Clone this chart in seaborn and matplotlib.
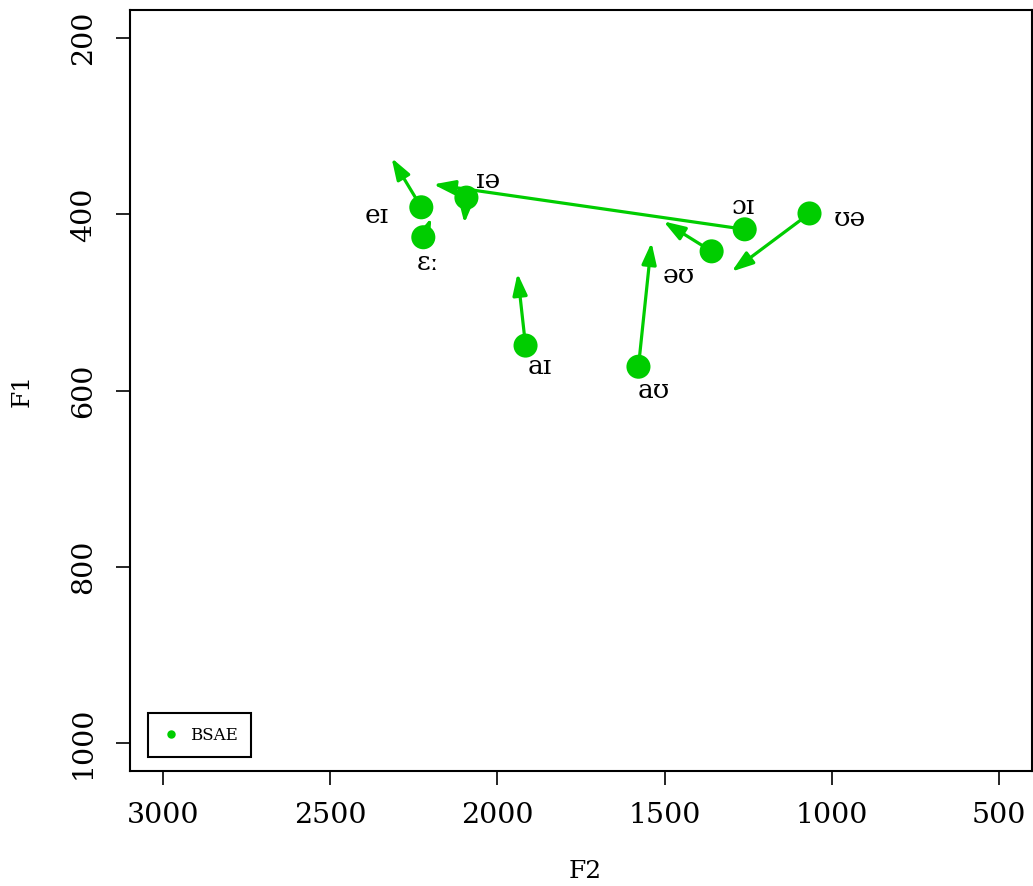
import matplotlib
matplotlib.use("Agg")
import matplotlib.pyplot as plt
import seaborn as sns
import pandas as pd

# ---- data ----
vowels = ["eɪ", "ɪə", "ɛː", "aɪ", "aʊ", "əʊ", "ɔɪ", "ʊə"]
f2_start = [2228, 2093, 2222, 1916, 1578, 1359, 1260, 1066]
f1_start = [392, 381, 426, 549, 573, 442, 417, 399]
f2_end = [2317, 2099, 2198, 1940, 1539, 1503, 2192, 1299]
f1_end = [336, 410, 404, 467, 432, 408, 366, 465]
group = "BSAE"
x_ticks = [3000, 2500, 2000, 1500, 1000, 500]
y_ticks = [200, 400, 600, 800, 1000]

# label offsets in pixels (layout only)
label_offsets = [(-45, -8), (22, 17), (5, -25), (14, -21), (15, -24), (-33, -24), (-1, 23), (40, -5)]

df = pd.DataFrame({"F2": f2_start, "F1": f1_start, "group": group})

sns.set_theme(style="white")
plt.rcParams["font.family"] = ["DejaVu Serif"]
plt.rcParams["text.color"] = "black"
plt.rcParams["xtick.color"] = "black"
plt.rcParams["ytick.color"] = "black"
plt.rcParams["axes.labelcolor"] = "black"

green = "#00CD00"
fig = plt.figure(figsize=(10.33, 8.86), dpi=100)
ax = fig.add_axes([130 / 1033, 1 - 771 / 886, 902 / 1033, 761 / 886])

for x0, y0, x1, y1 in zip(f2_start, f1_start, f2_end, f1_end):
    ax.annotate("", xy=(x1, y1), xytext=(x0, y0),
                arrowprops=dict(arrowstyle="-|>,head_length=0.65,head_width=0.22",
                                color=green, lw=2.3, shrinkA=0, shrinkB=0,
                                mutation_scale=20),
                zorder=2)

sns.scatterplot(data=df, x="F2", y="F1", hue="group", palette=[green],
                s=300, edgecolor="none", ax=ax, zorder=3)

for v, x0, y0, (dx, dy) in zip(vowels, f2_start, f1_start, label_offsets):
    ax.annotate(v, xy=(x0, y0), xytext=(dx * 0.72, dy * 0.72),
                textcoords="offset points", ha="center", va="center",
                fontsize=19, color="black", zorder=4)

ax.set_xlim(3100, 400)
ax.set_ylim(1032, 168)
ax.set_xticks(x_ticks)
ax.set_yticks(y_ticks)
ax.set_xticklabels([str(t) for t in x_ticks], fontsize=20.5)
ax.set_yticklabels([str(t) for t in y_ticks], fontsize=20.5, rotation=90, va="center")
ax.tick_params(axis="both", direction="out", length=10, width=1.2, color="black",
               left=True, bottom=True)
ax.tick_params(axis="x", pad=12)
ax.tick_params(axis="y", pad=14)
for s in ax.spines.values():
    s.set_color("black")
    s.set_linewidth(1.5)

ax.set_xlabel("F2", fontsize=18)
ax.set_ylabel("F1", fontsize=18)
ax.xaxis.set_label_coords((585 - 130) / 902, (771 - 872) / 761)
ax.yaxis.set_label_coords((22 - 130) / 902, (771 - 390) / 761)
ax.xaxis.label.set_va("center")
ax.yaxis.label.set_va("center")

handles, labels = ax.get_legend_handles_labels()
leg = ax.legend(handles=handles, labels=labels, loc="lower left",
                bbox_to_anchor=(18 / 902, 14 / 761), borderaxespad=0,
                fontsize=12, markerscale=0.35, handletextpad=0.6,
                borderpad=0.8, handlelength=1.1, fancybox=False,
                framealpha=1, edgecolor="black")
leg.get_frame().set_linewidth(1.5)

fig.savefig("out.png", dpi=100)
